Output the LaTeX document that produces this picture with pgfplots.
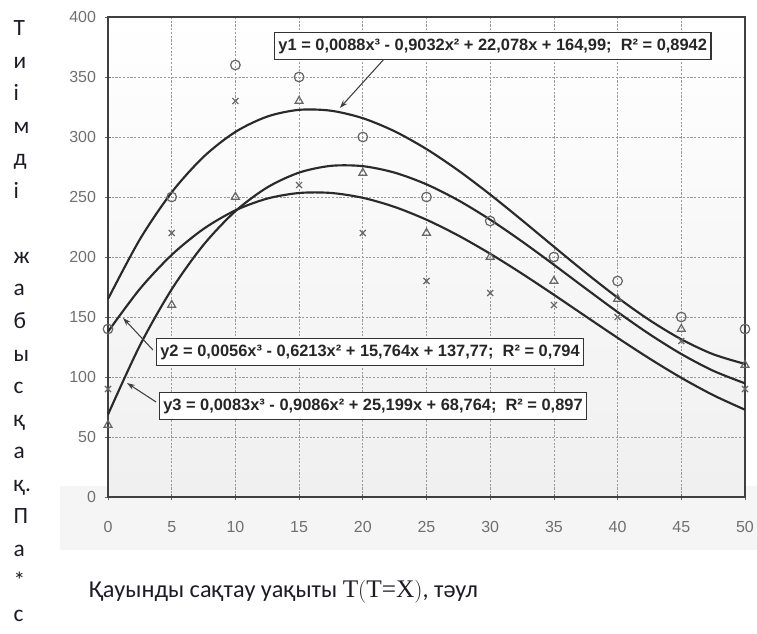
\documentclass[border=0pt]{standalone}
\usepackage{pgfplots}
\pgfplotsset{compat=1.18}
\usepackage{fontspec}
\setmainfont{Liberation Sans}
\newfontfamily\carlito{Carlito}
\newfontfamily\serifcyr{Liberation Serif}
\usetikzlibrary{arrows.meta}
\definecolor{curve}{HTML}{2A2A2A}
\definecolor{markc}{HTML}{666666}
\definecolor{tickc}{HTML}{707070}
\definecolor{gridc}{HTML}{9A9A9A}
\definecolor{labc}{HTML}{1C1C24}

\begin{document}
\begin{tikzpicture}
\useasboundingbox (0,0) rectangle (567.75pt,474.75pt);
% scanned-paper tint under the chart
\fill[black!4] (45pt,62pt) rectangle (567.75pt,110pt);
\begin{axis}[
    at={(81pt,102pt)}, anchor=south west,
    scale only axis,
    width=477.75pt, height=360pt,
    xmin=0, xmax=50, ymin=0, ymax=400,
    xtick={0,5,...,50}, ytick={0,50,...,400},
    grid=major,
    major grid style={gridc, line width=0.6pt, dash pattern=on 1.6pt off 1.2pt},
    axis line style={black!75, line width=0.9pt},
    tick pos=left, tick align=center,
    major tick length=5pt,
    tick style={black!60, line width=0.6pt},
    /pgf/number format/assume math mode=true,
    ticklabel style={font=\fontsize{12}{12}\selectfont, text=tickc},
    yticklabel style={xshift=-3pt},
    xticklabel style={yshift=-12pt},
    axis background/.style={shade, top color=white, bottom color=black!6},
    clip=false,
]
% trendline y1
\addplot[curve, line width=1.6pt, smooth] coordinates {
 (0,164.99)(2.5,214.68)(5,253.90)(7.5,283.48)(10,304.25)(12.5,317.03)(15,322.64)
 (17.5,321.91)(20,315.67)(22.5,304.74)(25,289.94)(27.5,272.10)(30,252.05)
 (32.5,230.61)(35,208.60)(37.5,186.85)(40,166.19)(42.5,147.44)(45,131.42)
 (47.5,118.96)(50,110.89)};
% trendline y2
\addplot[curve, line width=1.6pt, smooth] coordinates {
 (0,137.77)(2.5,173.38)(5,201.76)(7.5,223.41)(10,238.88)(12.5,248.68)(15,253.34)
 (17.5,253.38)(20,249.33)(22.5,241.72)(25,231.06)(27.5,217.88)(30,202.72)
 (32.5,186.09)(35,168.52)(37.5,150.53)(40,132.65)(42.5,115.41)(45,99.32)
 (47.5,84.91)(50,72.72)};
% trendline y3
\addplot[curve, line width=1.6pt, smooth] coordinates {
 (0,68.76)(2.5,126.21)(5,173.08)(7.5,210.15)(10,238.19)(12.5,257.99)(15,270.33)
 (17.5,275.96)(20,275.70)(22.5,270.30)(25,260.55)(27.5,247.22)(30,231.09)
 (32.5,212.94)(35,193.55)(37.5,173.70)(40,154.16)(42.5,135.71)(45,119.14)
 (47.5,105.21)(50,94.71)};
% measured points
\addplot[only marks, mark=o, mark size=3.6pt, markc, mark options={line width=0.9pt, fill=white}] coordinates {
 (0,140)(5,250)(10,360)(15,350)(20,300)(25,250)(30,230)(35,200)(40,180)(45,150)(50,140)};
\addplot[only marks, mark=triangle, mark size=3.4pt, markc, mark options={line width=0.9pt}] coordinates {
 (0,60)(5,160)(10,250)(15,330)(20,270)(25,220)(30,200)(35,180)(40,165)(45,140)(50,110)};
\addplot[only marks, mark=x, mark size=3.2pt, markc, mark options={line width=0.9pt}] coordinates {
 (0,90)(5,220)(10,330)(15,260)(20,220)(25,180)(30,170)(35,160)(40,150)(45,130)(50,90)};
% equation labels
\tikzset{eq/.style={draw=black!80, line width=0.8pt, fill=white, inner xsep=3pt, inner ysep=4.5pt,
  font=\bfseries\fontsize{12.3}{13}\selectfont, text=black!85}}
\draw[black!75, line width=0.8pt, -{Stealth[length=6pt,width=4pt]}] (axis cs:21.74,365.8) -- (axis cs:18.2,324.2);
\draw[black!75, line width=0.8pt, -{Stealth[length=6pt,width=4pt]}] (axis cs:3.53,122.5) -- (axis cs:1.18,149.2);
\draw[black!75, line width=0.8pt, -{Stealth[length=6pt,width=4pt]}] (axis cs:3.77,79.2) -- (axis cs:1.49,95);
\node[eq] at (axis cs:30.2,375.8) {y1 = 0,0088x³ - 0,9032x² + 22,078x + 164,99;\ \ R² = 0,8942};
\node[eq] at (axis cs:20.57,120.8) {y2 = 0,0056x³ - 0,6213x² + 15,764x + 137,77;\ \ R² = 0,794};
\node[eq] at (axis cs:20.8,75.8) {y3 = 0,0083x³ - 0,9086x² + 25,199x + 68,764;\ \ R² = 0,897};
\end{axis}
% x label
\node[anchor=base west, inner sep=0pt, text=labc, font=\carlito\fontsize{18.2}{18}\selectfont] at (66.5pt,27pt)
  {Қауынды сақтау уақыты {\serifcyr\fontsize{19}{19}\selectfont Т\big(Т=Х\big)}, тәул};
% y label, one letter per line
\foreach \c [count=\i from 0] in {Т,и,і,м,д,і,{},ж,а,б,ы,с,қ,а,қ.,П,а,*,с}
  \node[anchor=base west, inner sep=0pt, text=labc, font=\carlito\fontsize{17.5}{17}\selectfont]
    at (10pt,{474.75pt-(36+32.5*\i)*0.75pt}) {\c};
\end{tikzpicture}
\end{document}
